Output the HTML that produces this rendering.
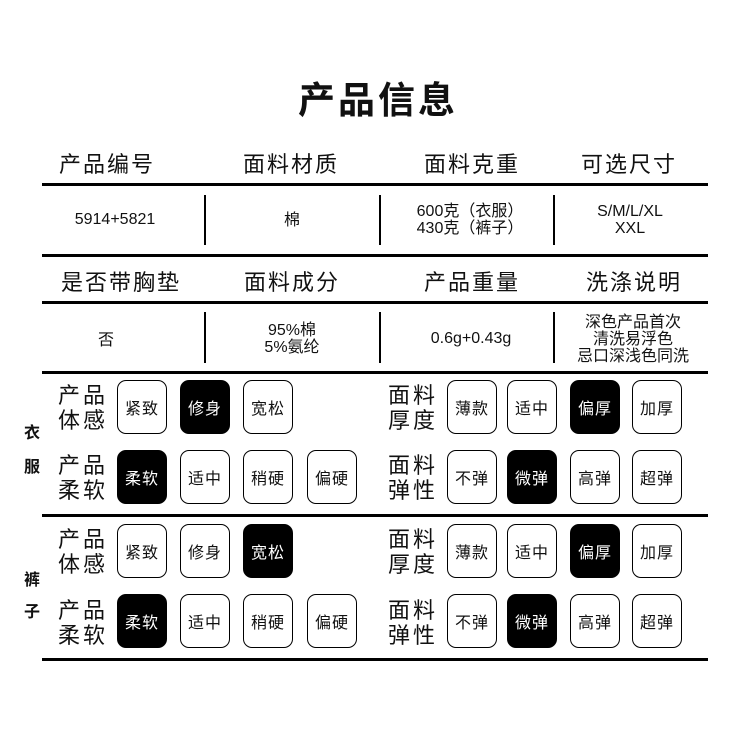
<!DOCTYPE html><html><head><meta charset="utf-8"><style>
body{margin:0;width:750px;height:750px;background:#fff;position:relative;overflow:hidden;font-family:"Liberation Sans","Noto Sans CJK SC",sans-serif;color:#111}
.a{position:absolute;white-space:nowrap}
.c{transform:translateX(-50%);text-align:center}
.hl{position:absolute;left:42px;width:666px;height:3px;background:#000}
.vl{position:absolute;width:2px;background:#000}
.h{font-size:22px;letter-spacing:2px}
.s{font-size:16px;line-height:17px}
.b{position:absolute;width:48px;height:52px;border:1.5px solid #000;border-radius:9px;font-size:16px;display:flex;align-items:center;justify-content:center;letter-spacing:1px}
.k{background:#000;color:#fff}
.l{position:absolute;font-size:22px;line-height:25px;letter-spacing:3px}
.side{position:absolute;font-size:16px;font-weight:600;left:24px}
</style></head><body>
<div class="a c" style="left:378px;top:70px;font-size:37px;font-weight:bold;letter-spacing:3px">产品信息</div>
<div class="a c h" style="left:107px;top:147px">产品编号</div>
<div class="a c h" style="left:291px;top:147px">面料材质</div>
<div class="a c h" style="left:472px;top:147px">面料克重</div>
<div class="a c h" style="left:629px;top:147px">可选尺寸</div>
<div class="hl" style="top:183px"></div>
<div class="a c s" style="left:115px;top:211px">5914+5821</div>
<div class="a c s" style="left:292px;top:212px">棉</div>
<div class="a c s" style="left:470px;top:203px">600克（衣服）<br>430克（裤子）</div>
<div class="a c s" style="left:630px;top:203px">S/M/L/XL<br>XXL</div>
<div class="vl" style="left:204px;top:195px;height:50px"></div>
<div class="vl" style="left:379px;top:195px;height:50px"></div>
<div class="vl" style="left:553px;top:195px;height:50px"></div>
<div class="hl" style="top:254px"></div>
<div class="a c h" style="left:121px;top:265px">是否带胸垫</div>
<div class="a c h" style="left:292px;top:265px">面料成分</div>
<div class="a c h" style="left:472px;top:265px">产品重量</div>
<div class="a c h" style="left:634px;top:265px">洗涤说明</div>
<div class="hl" style="top:301px"></div>
<div class="a c s" style="left:106px;top:332px">否</div>
<div class="a c s" style="left:292px;top:322px">95%棉<br>5%氨纶</div>
<div class="a c s" style="left:471px;top:330px">0.6g+0.43g</div>
<div class="a c s" style="left:633px;top:314px">深色产品首次<br>清洗易浮色<br>忌口深浅色同洗</div>
<div class="vl" style="left:204px;top:312px;height:51px"></div>
<div class="vl" style="left:379px;top:312px;height:51px"></div>
<div class="vl" style="left:553px;top:312px;height:51px"></div>
<div class="hl" style="top:371px"></div>
<div class="hl" style="top:514px"></div>
<div class="hl" style="top:658px"></div>

<div class="side" style="top:419px">衣</div>
<div class="side" style="top:453px">服</div>
<div class="side" style="top:566px">裤</div>
<div class="side" style="top:598px">子</div>

<div class="l" style="left:58px;top:383px">产品<br>体感</div>
<div class="b" style="left:117px;top:380px">紧致</div>
<div class="b k" style="left:180px;top:380px">修身</div>
<div class="b" style="left:243px;top:380px">宽松</div>
<div class="l" style="left:58px;top:453px">产品<br>柔软</div>
<div class="b k" style="left:117px;top:450px">柔软</div>
<div class="b" style="left:180px;top:450px">适中</div>
<div class="b" style="left:243px;top:450px">稍硬</div>
<div class="b" style="left:307px;top:450px">偏硬</div>
<div class="l" style="left:388px;top:383px">面料<br>厚度</div>
<div class="b" style="left:447px;top:380px">薄款</div>
<div class="b" style="left:507px;top:380px">适中</div>
<div class="b k" style="left:570px;top:380px">偏厚</div>
<div class="b" style="left:632px;top:380px">加厚</div>
<div class="l" style="left:388px;top:453px">面料<br>弹性</div>
<div class="b" style="left:447px;top:450px">不弹</div>
<div class="b k" style="left:507px;top:450px">微弹</div>
<div class="b" style="left:570px;top:450px">高弹</div>
<div class="b" style="left:632px;top:450px">超弹</div>

<div class="l" style="left:58px;top:527px">产品<br>体感</div>
<div class="b" style="left:117px;top:524px">紧致</div>
<div class="b" style="left:180px;top:524px">修身</div>
<div class="b k" style="left:243px;top:524px">宽松</div>
<div class="l" style="left:58px;top:598px">产品<br>柔软</div>
<div class="b k" style="left:117px;top:594px">柔软</div>
<div class="b" style="left:180px;top:594px">适中</div>
<div class="b" style="left:243px;top:594px">稍硬</div>
<div class="b" style="left:307px;top:594px">偏硬</div>
<div class="l" style="left:388px;top:527px">面料<br>厚度</div>
<div class="b" style="left:447px;top:524px">薄款</div>
<div class="b" style="left:507px;top:524px">适中</div>
<div class="b k" style="left:570px;top:524px">偏厚</div>
<div class="b" style="left:632px;top:524px">加厚</div>
<div class="l" style="left:388px;top:598px">面料<br>弹性</div>
<div class="b" style="left:447px;top:594px">不弹</div>
<div class="b k" style="left:507px;top:594px">微弹</div>
<div class="b" style="left:570px;top:594px">高弹</div>
<div class="b" style="left:632px;top:594px">超弹</div>
</body></html>
